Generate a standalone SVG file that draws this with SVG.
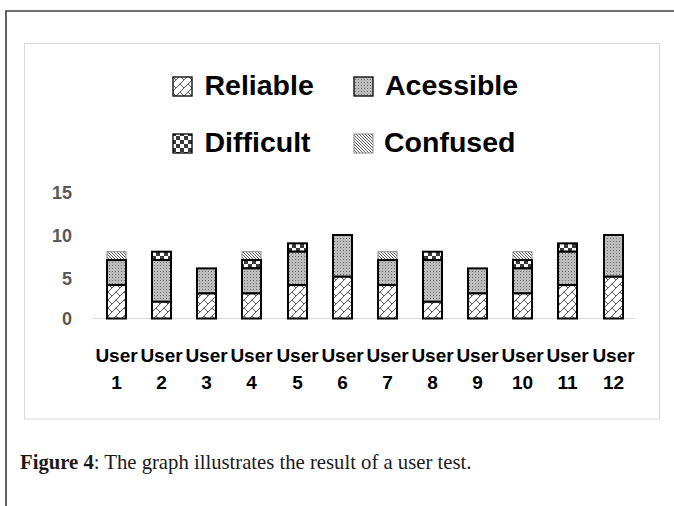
<svg xmlns="http://www.w3.org/2000/svg" width="674" height="506" viewBox="0 0 674 506">
  <style>
    .leg { font-family: "Liberation Sans", Arial, sans-serif; font-weight: bold; font-size: 28.5px; fill: #000; }
    .ytick { font-family: "Liberation Sans", Arial, sans-serif; font-weight: bold; font-size: 18px; fill: #595959; text-anchor: end; }
    .cat { font-family: "Liberation Sans", Arial, sans-serif; font-weight: bold; font-size: 19px; fill: #000; text-anchor: middle; }
    .cap { font-family: "Liberation Serif", "Times New Roman", serif; font-size: 20.7px; fill: #1a1a1a; }
    .rel { fill: url(#pRel); stroke: #000; stroke-width: 2; }
    .acc { fill: url(#pAcc); stroke: #000; stroke-width: 2; }
    .dif { fill: url(#pDif); stroke: #000; stroke-width: 2; }
    .con { fill: url(#pCon); stroke: #8a8a8a; stroke-width: 1; }
    .key { stroke-width: 1.3; }
  </style>
  <defs>
    <!-- diagonal brick -->
    <pattern id="pRel" patternUnits="userSpaceOnUse" width="8" height="8">
      <rect width="8" height="8" fill="#fff"/>
      <path d="M-1,9 L9,-1 M4,4 L8,8" stroke="#4a4a4a" stroke-width="0.9" fill="none"/>
    </pattern>
    <!-- fine grey stipple -->
    <pattern id="pAcc" patternUnits="userSpaceOnUse" width="3" height="3">
      <rect width="3" height="3" fill="#bdbdbd"/>
      <rect x="1" y="1" width="1" height="1" fill="#6e6e6e"/>
    </pattern>
    <!-- large checkerboard -->
    <pattern id="pDif" patternUnits="userSpaceOnUse" width="8" height="8">
      <rect width="8" height="8" fill="#fff"/>
      <rect width="4" height="4" fill="#3a3a3a"/>
      <rect x="4" y="4" width="4" height="4" fill="#3a3a3a"/>
    </pattern>
    <!-- dense downward diagonal -->
    <pattern id="pCon" patternUnits="userSpaceOnUse" width="3" height="3">
      <rect width="3" height="3" fill="#fff"/>
      <path d="M-1,-1 L4,4 M-1,2 L1,4 M2,-1 L4,1" stroke="#4a4a4a" stroke-width="0.9" fill="none"/>
    </pattern>
  </defs>

  <rect width="674" height="506" fill="#fff"/>

  <!-- page frame -->
  <path d="M6,506 L6,11 L674,11" fill="none" stroke="#3c3c3c" stroke-width="1.6"/>

  <!-- chart area -->
  <rect x="24.5" y="43.5" width="635" height="375.5" fill="#fff" stroke="#d9d9d9" stroke-width="1"/>

  <!-- legend -->
  <g id="legend">
    <g id="key-reliable">
      <rect class="rel key" x="173" y="77" width="19" height="19"/>
      <text class="leg" x="204.5" y="94.5">Reliable</text>
    </g>
    <g id="key-acessible">
      <rect class="acc key" x="354" y="77" width="19" height="19"/>
      <text class="leg" x="385" y="94.5">Acessible</text>
    </g>
    <g id="key-difficult">
      <rect class="dif key" x="173" y="134" width="19" height="19"/>
      <text class="leg" x="204.5" y="151.5">Difficult</text>
    </g>
    <g id="key-confused">
      <rect class="con" x="354" y="134" width="19" height="19"/>
      <text class="leg" x="384" y="151.5">Confused</text>
    </g>
  </g>

  <!-- value axis -->
  <g id="y-axis">
    <text class="ytick" x="72" y="198.5">15</text>
    <text class="ytick" x="72" y="241.5">10</text>
    <text class="ytick" x="72" y="284.5">5</text>
    <text class="ytick" x="72" y="325">0</text>
  </g>

  <g id="connectors">
    <line x1="92" y1="318.5" x2="635" y2="318.5" stroke="#d9d9d9" stroke-width="1"/>
  </g>

  <!-- stacked bars: 1 unit = 8.35px, zero at y=318.5 -->
  <g id="bar-1">
    <rect class="con" x="107" y="251.7" width="19" height="8.35"/>
    <rect class="acc" x="107" y="260.05" width="19" height="25.05"/>
    <rect class="rel" x="107" y="285.1" width="19" height="33.4"/>
  </g>
  <g id="bar-2">
    <rect class="dif" x="152" y="251.7" width="19" height="8.35"/>
    <rect class="acc" x="152" y="260.05" width="19" height="41.75"/>
    <rect class="rel" x="152" y="301.8" width="19" height="16.7"/>
  </g>
  <g id="bar-3">
    <rect class="acc" x="197" y="268.4" width="19" height="25.05"/>
    <rect class="rel" x="197" y="293.45" width="19" height="25.05"/>
  </g>
  <g id="bar-4">
    <rect class="con" x="242" y="251.7" width="19" height="8.35"/>
    <rect class="dif" x="242" y="260.05" width="19" height="8.35"/>
    <rect class="acc" x="242" y="268.4" width="19" height="25.05"/>
    <rect class="rel" x="242" y="293.45" width="19" height="25.05"/>
  </g>
  <g id="bar-5">
    <rect class="dif" x="288" y="243.35" width="19" height="8.35"/>
    <rect class="acc" x="288" y="251.7" width="19" height="33.4"/>
    <rect class="rel" x="288" y="285.1" width="19" height="33.4"/>
  </g>
  <g id="bar-6">
    <rect class="acc" x="333" y="235" width="19" height="41.75"/>
    <rect class="rel" x="333" y="276.75" width="19" height="41.75"/>
  </g>
  <g id="bar-7">
    <rect class="con" x="378" y="251.7" width="19" height="8.35"/>
    <rect class="acc" x="378" y="260.05" width="19" height="25.05"/>
    <rect class="rel" x="378" y="285.1" width="19" height="33.4"/>
  </g>
  <g id="bar-8">
    <rect class="dif" x="423" y="251.7" width="19" height="8.35"/>
    <rect class="acc" x="423" y="260.05" width="19" height="41.75"/>
    <rect class="rel" x="423" y="301.8" width="19" height="16.7"/>
  </g>
  <g id="bar-9">
    <rect class="acc" x="468" y="268.4" width="19" height="25.05"/>
    <rect class="rel" x="468" y="293.45" width="19" height="25.05"/>
  </g>
  <g id="bar-10">
    <rect class="con" x="513" y="251.7" width="19" height="8.35"/>
    <rect class="dif" x="513" y="260.05" width="19" height="8.35"/>
    <rect class="acc" x="513" y="268.4" width="19" height="25.05"/>
    <rect class="rel" x="513" y="293.45" width="19" height="25.05"/>
  </g>
  <g id="bar-11">
    <rect class="dif" x="558" y="243.35" width="19" height="8.35"/>
    <rect class="acc" x="558" y="251.7" width="19" height="33.4"/>
    <rect class="rel" x="558" y="285.1" width="19" height="33.4"/>
  </g>
  <g id="bar-12">
    <rect class="acc" x="604" y="235" width="19" height="41.75"/>
    <rect class="rel" x="604" y="276.75" width="19" height="41.75"/>
  </g>

  <!-- category axis -->
  <g id="x-axis">
    <text class="cat" x="116.5" y="361.5">User</text>
    <text class="cat" x="161.5" y="361.5">User</text>
    <text class="cat" x="206.5" y="361.5">User</text>
    <text class="cat" x="251.5" y="361.5">User</text>
    <text class="cat" x="297.5" y="361.5">User</text>
    <text class="cat" x="342.5" y="361.5">User</text>
    <text class="cat" x="387.5" y="361.5">User</text>
    <text class="cat" x="432.5" y="361.5">User</text>
    <text class="cat" x="477.5" y="361.5">User</text>
    <text class="cat" x="522.5" y="361.5">User</text>
    <text class="cat" x="567.5" y="361.5">User</text>
    <text class="cat" x="613.5" y="361.5">User</text>
    <text class="cat" x="116.5" y="389">1</text>
    <text class="cat" x="161.5" y="389">2</text>
    <text class="cat" x="206.5" y="389">3</text>
    <text class="cat" x="251.5" y="389">4</text>
    <text class="cat" x="297.5" y="389">5</text>
    <text class="cat" x="342.5" y="389">6</text>
    <text class="cat" x="387.5" y="389">7</text>
    <text class="cat" x="432.5" y="389">8</text>
    <text class="cat" x="477.5" y="389">9</text>
    <text class="cat" x="522.5" y="389">10</text>
    <text class="cat" x="567.5" y="389">11</text>
    <text class="cat" x="613.5" y="389">12</text>
  </g>

  <!-- caption -->
  <text class="cap" x="20" y="469"><tspan font-weight="bold">Figure 4</tspan>: The graph illustrates the result of a user test.</text>
</svg>
